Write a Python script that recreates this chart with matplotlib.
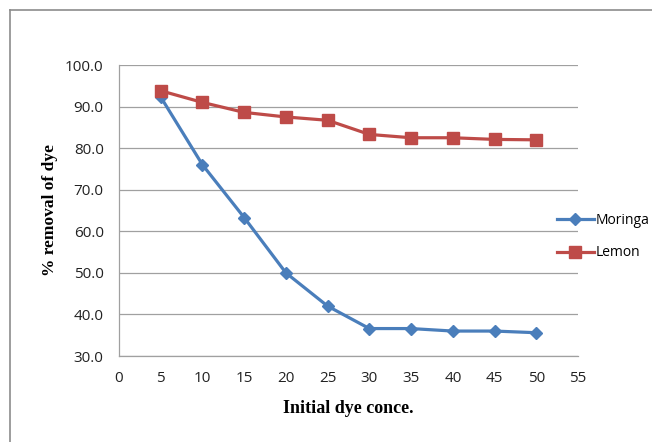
import matplotlib.pyplot as plt
from matplotlib.lines import Line2D

conc = [5, 10, 15, 20, 25, 30, 35, 40, 45, 50]
moringa = [92.3, 76.0, 63.3, 50.0, 42.0, 36.6, 36.6, 36.0, 36.0, 35.6]
lemon = [93.8, 91.0, 88.6, 87.5, 86.7, 83.3, 82.5, 82.5, 82.1, 82.0]

x_ticks = list(range(0, 56, 5))
y_ticks = [30, 40, 50, 60, 70, 80, 90, 100]

blue = '#4A7EBB'
red = '#BE4B48'
grid_col = '#A0A0A0'

fig = plt.figure(figsize=(6.52, 4.42), dpi=100)
ax = fig.add_axes([119/652, 1 - 356/442, (578 - 119)/652, (356 - 65)/442])

# outer chart border (only top and left visible in the picture)
fig.add_artist(Line2D([9.5/652, 9.5/652], [0, 1 - 9.5/442], color='#8C8C8C', lw=1.2, transform=fig.transFigure))
fig.add_artist(Line2D([9.5/652, 1], [1 - 9.5/442, 1 - 9.5/442], color='#8C8C8C', lw=1.2, transform=fig.transFigure))

ax.plot(conc, moringa, color=blue, lw=2.3, marker='D', ms=6.5, label='Moringa', zorder=3)
ax.plot(conc, lemon, color=red, lw=2.3, marker='s', ms=8, label='Lemon', zorder=3)

ax.set_xlim(0, 55)
ax.set_ylim(30, 100)
ax.set_xticks(x_ticks)
ax.set_yticks(y_ticks)
ax.set_yticklabels([f'{v:.1f}' for v in y_ticks])
ax.tick_params(length=0, labelsize=11, colors='#222222', pad=11)
for lab in ax.get_xticklabels() + ax.get_yticklabels():
    lab.set_family('Open Sans')

ax.grid(axis='y', color=grid_col, lw=0.9)
ax.set_axisbelow(True)
for s in ['top', 'right']:
    ax.spines[s].set_visible(False)
for s in ['left', 'bottom']:
    ax.spines[s].set_color(grid_col)
    ax.spines[s].set_linewidth(0.9)

ax.set_xlabel('Initial dye conce.', family='Liberation Serif', weight='bold', fontsize=13, labelpad=10)
ax.set_ylabel('% removal of dye', family='Liberation Serif', weight='bold', fontsize=12.5, labelpad=5)

leg = ax.legend(loc='center left', bbox_to_anchor=(0.926, 0.41), frameon=False,
                handlelength=2.7, handletextpad=0.15, labelspacing=1.25,
                prop={'family': 'Open Sans', 'size': 10})

fig.savefig('out.png', dpi=100)
